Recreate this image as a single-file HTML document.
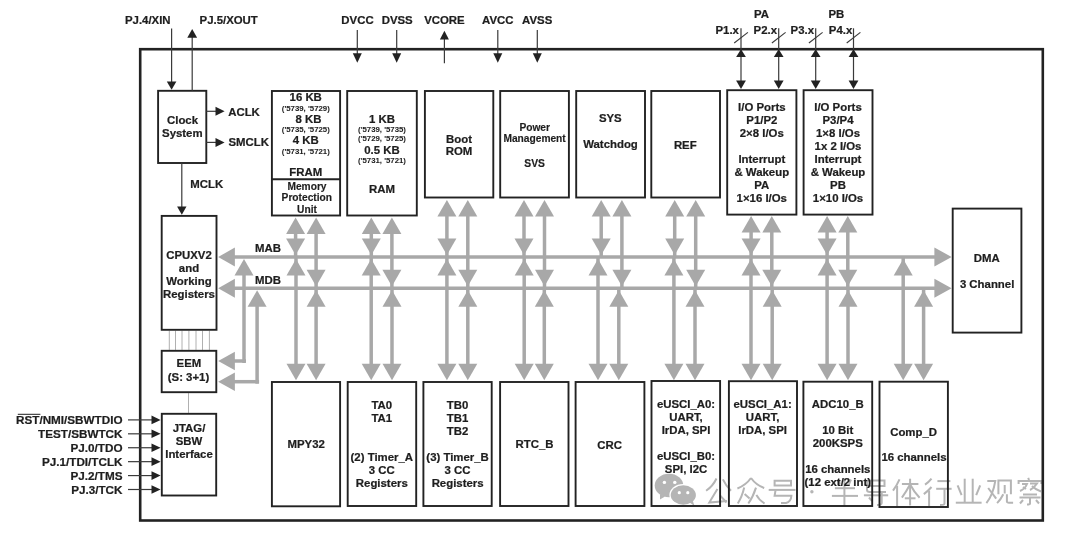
<!DOCTYPE html>
<html><head><meta charset="utf-8"><style>
html,body{margin:0;padding:0;background:#fff;}
body{width:1080px;height:536px;overflow:hidden;}
svg{display:block;font-family:"Liberation Sans",sans-serif;will-change:transform;}
</style></head><body>
<svg width="1080" height="536" viewBox="0 0 1080 536">
<rect x="0" y="0" width="1080" height="536" fill="#fff"/>
<g fill="none" stroke="#b5b5b5" stroke-width="2" stroke-linecap="butt" stroke-linejoin="miter">
<path d="M716.5,478.5 Q713,486 706.1,490.8"/><path d="M722.9,479.4 Q726,486 731,490.8"/><path d="M717.4,489 L709.3,502.6 L727,501"/><path d="M720,495.3 L726.5,502.5"/><path d="M751,478 Q746,485 737.4,488.5"/><path d="M751,478 Q756,485 764.2,488"/><path d="M744.2,487.6 Q742,497 737.8,503.5"/><path d="M744.6,494 L749.6,498.5"/><path d="M756,487.6 Q753,497 748.3,503.5"/><path d="M756.4,494.9 Q759,500 764.6,503.5"/><path d="M774.6,480.8 L791,480.8 L791,485.5 L774.6,485.5 Z"/><path d="M768.7,489.9 L795.5,489.9"/><path d="M775.5,490.3 L774.6,495.8 L791.4,495.8 Q791,502 786,503 L781,503"/><path d="M838,479.5 L840,484"/><path d="M851,479.5 L849,484"/><path d="M834.9,488.2 L855,488.2"/><path d="M831.9,495.9 L858,495.9"/><path d="M844.4,478.5 L844.4,506"/><path d="M867,480.5 L884.5,480.5 L884.5,486 L867,486"/><path d="M867,480.5 L867,490 Q867,492 870,492 L886,492"/><path d="M863.9,495.3 L888.2,495.3"/><path d="M881.7,492.5 L881.7,503 Q881.7,505 877,505"/><path d="M869,497.5 L872,501"/><path d="M899.5,479.3 Q897,485 893,490.6"/><path d="M897.1,485.9 L897.1,506"/><path d="M901.9,484 L918.4,484"/><path d="M910.1,478.7 L910.1,505.4"/><path d="M909.6,485.3 Q906,492 901.9,497.7"/><path d="M910.6,485.3 Q914,492 919.6,497.7"/><path d="M904.8,498.3 L915.5,498.3"/><path d="M931.5,478.7 Q929,482 925,484.7"/><path d="M931.5,487 Q928,491 923.8,494.1"/><path d="M929.1,490.6 L929.1,506"/><path d="M937.4,481.1 L950.4,481.1"/><path d="M936.2,488.8 L951.6,488.8"/><path d="M944.5,488.8 L944.5,503.5 Q944.5,505 940,505"/><path d="M964.7,478.7 L964.7,502.7"/><path d="M972.7,478.7 L972.7,502.7"/><path d="M957.6,485.3 L961.6,495.1"/><path d="M980.2,485.3 L976.2,495.1"/><path d="M955.8,502.7 L981.6,502.7"/><path d="M987.3,480.9 L995.3,480.9 Q993,495 986.4,503.1"/><path d="M988.2,488 L996.2,498.7"/><path d="M998.4,494.2 L998.4,480.4 L1010.9,480.4 L1010.9,494.2"/><path d="M1004.7,485 L1004.7,493.5"/><path d="M1003.3,494.2 Q1001,499 997.1,503.1"/><path d="M1006.9,494.2 L1006.9,501.5 Q1007,502.7 1009,502.7 L1013.1,502.7"/><path d="M1028.2,477.8 L1029,480"/><path d="M1018.6,484 L1018.6,480.9 L1041.4,480.9 L1041.4,484"/><path d="M1022,484 L1027,484 Q1025,489 1020,491"/><path d="M1023,487 L1026,489"/><path d="M1030,483.5 L1037,483.5 Q1034,488 1030,490"/><path d="M1032,486 Q1036,490 1041,491.5"/><path d="M1023,494.5 L1037,494.5"/><path d="M1019.5,497.5 L1040.5,497.5"/><path d="M1030,497.5 L1030,503.5 Q1030,504.5 1027,504.5"/><path d="M1023,500 L1020,503.5"/><path d="M1036,500 L1039,503.5"/>
</g>
<circle cx="811.9" cy="491.7" r="1.7" fill="#b5b5b5"/>
<ellipse cx="669" cy="485.5" rx="14.3" ry="11.7" fill="#b5b5b5"/>
<polygon points="660,494 660,499.5 665,496.5" fill="#b5b5b5"/>
<ellipse cx="683.3" cy="495" rx="13.9" ry="10.9" fill="#fff"/>
<ellipse cx="683.3" cy="495" rx="12.6" ry="9.7" fill="#b5b5b5"/>
<polygon points="689,502 694.5,506 692.5,500" fill="#b5b5b5"/>
<circle cx="664.4" cy="482.4" r="1.7" fill="#fff"/>
<circle cx="674.8" cy="482.4" r="1.7" fill="#fff"/>
<circle cx="679.3" cy="492.7" r="1.6" fill="#fff"/>
<circle cx="687.8" cy="492.7" r="1.6" fill="#fff"/>
<line x1="233.00" y1="257.00" x2="936.00" y2="257.00" stroke="#a8a8a8" stroke-width="3.5"/>
<line x1="233.00" y1="288.30" x2="936.00" y2="288.30" stroke="#a8a8a8" stroke-width="3.5"/>
<polygon points="234.90,247.50 234.90,266.50 218.20,257.00" fill="#a8a8a8"/>
<polygon points="234.90,278.80 234.90,297.80 218.20,288.30" fill="#a8a8a8"/>
<polygon points="934.40,247.50 934.40,266.50 951.60,257.00" fill="#a8a8a8"/>
<polygon points="934.40,278.80 934.40,297.80 951.60,288.30" fill="#a8a8a8"/>
<line x1="295.60" y1="221.50" x2="295.60" y2="257.00" stroke="#a8a8a8" stroke-width="3.5"/>
<line x1="316.10" y1="221.50" x2="316.10" y2="288.30" stroke="#a8a8a8" stroke-width="3.5"/>
<polygon points="286.10,234.00 305.10,234.00 295.60,217.50" fill="#a8a8a8"/>
<polygon points="306.60,234.00 325.60,234.00 316.10,217.50" fill="#a8a8a8"/>
<polygon points="286.10,238.50 305.10,238.50 295.60,255.00" fill="#a8a8a8"/>
<polygon points="306.60,269.80 325.60,269.80 316.10,286.30" fill="#a8a8a8"/>
<line x1="296.00" y1="257.00" x2="296.00" y2="376.20" stroke="#a8a8a8" stroke-width="3.5"/>
<line x1="316.10" y1="288.30" x2="316.10" y2="376.20" stroke="#a8a8a8" stroke-width="3.5"/>
<polygon points="286.50,275.50 305.50,275.50 296.00,259.00" fill="#a8a8a8"/>
<polygon points="306.60,306.80 325.60,306.80 316.10,290.30" fill="#a8a8a8"/>
<polygon points="286.50,363.70 305.50,363.70 296.00,380.20" fill="#a8a8a8"/>
<polygon points="306.60,363.70 325.60,363.70 316.10,380.20" fill="#a8a8a8"/>
<line x1="371.30" y1="221.50" x2="371.30" y2="257.00" stroke="#a8a8a8" stroke-width="3.5"/>
<line x1="391.90" y1="221.50" x2="391.90" y2="288.30" stroke="#a8a8a8" stroke-width="3.5"/>
<polygon points="361.80,234.00 380.80,234.00 371.30,217.50" fill="#a8a8a8"/>
<polygon points="382.40,234.00 401.40,234.00 391.90,217.50" fill="#a8a8a8"/>
<polygon points="361.80,238.50 380.80,238.50 371.30,255.00" fill="#a8a8a8"/>
<polygon points="382.40,269.80 401.40,269.80 391.90,286.30" fill="#a8a8a8"/>
<line x1="371.20" y1="257.00" x2="371.20" y2="376.20" stroke="#a8a8a8" stroke-width="3.5"/>
<line x1="392.00" y1="288.30" x2="392.00" y2="376.20" stroke="#a8a8a8" stroke-width="3.5"/>
<polygon points="361.70,275.50 380.70,275.50 371.20,259.00" fill="#a8a8a8"/>
<polygon points="382.50,306.80 401.50,306.80 392.00,290.30" fill="#a8a8a8"/>
<polygon points="361.70,363.70 380.70,363.70 371.20,380.20" fill="#a8a8a8"/>
<polygon points="382.50,363.70 401.50,363.70 392.00,380.20" fill="#a8a8a8"/>
<line x1="446.90" y1="204.00" x2="446.90" y2="257.00" stroke="#a8a8a8" stroke-width="3.5"/>
<line x1="467.80" y1="204.00" x2="467.80" y2="288.30" stroke="#a8a8a8" stroke-width="3.5"/>
<polygon points="437.40,216.50 456.40,216.50 446.90,200.00" fill="#a8a8a8"/>
<polygon points="458.30,216.50 477.30,216.50 467.80,200.00" fill="#a8a8a8"/>
<polygon points="437.40,238.50 456.40,238.50 446.90,255.00" fill="#a8a8a8"/>
<polygon points="458.30,269.80 477.30,269.80 467.80,286.30" fill="#a8a8a8"/>
<line x1="446.90" y1="257.00" x2="446.90" y2="376.20" stroke="#a8a8a8" stroke-width="3.5"/>
<line x1="467.80" y1="288.30" x2="467.80" y2="376.20" stroke="#a8a8a8" stroke-width="3.5"/>
<polygon points="437.40,275.50 456.40,275.50 446.90,259.00" fill="#a8a8a8"/>
<polygon points="458.30,306.80 477.30,306.80 467.80,290.30" fill="#a8a8a8"/>
<polygon points="437.40,363.70 456.40,363.70 446.90,380.20" fill="#a8a8a8"/>
<polygon points="458.30,363.70 477.30,363.70 467.80,380.20" fill="#a8a8a8"/>
<line x1="524.00" y1="204.00" x2="524.00" y2="257.00" stroke="#a8a8a8" stroke-width="3.5"/>
<line x1="544.50" y1="204.00" x2="544.50" y2="288.30" stroke="#a8a8a8" stroke-width="3.5"/>
<polygon points="514.50,216.50 533.50,216.50 524.00,200.00" fill="#a8a8a8"/>
<polygon points="535.00,216.50 554.00,216.50 544.50,200.00" fill="#a8a8a8"/>
<polygon points="514.50,238.50 533.50,238.50 524.00,255.00" fill="#a8a8a8"/>
<polygon points="535.00,269.80 554.00,269.80 544.50,286.30" fill="#a8a8a8"/>
<line x1="524.20" y1="257.00" x2="524.20" y2="376.20" stroke="#a8a8a8" stroke-width="3.5"/>
<line x1="544.30" y1="288.30" x2="544.30" y2="376.20" stroke="#a8a8a8" stroke-width="3.5"/>
<polygon points="514.70,275.50 533.70,275.50 524.20,259.00" fill="#a8a8a8"/>
<polygon points="534.80,306.80 553.80,306.80 544.30,290.30" fill="#a8a8a8"/>
<polygon points="514.70,363.70 533.70,363.70 524.20,380.20" fill="#a8a8a8"/>
<polygon points="534.80,363.70 553.80,363.70 544.30,380.20" fill="#a8a8a8"/>
<line x1="601.20" y1="204.00" x2="601.20" y2="257.00" stroke="#a8a8a8" stroke-width="3.5"/>
<line x1="621.90" y1="204.00" x2="621.90" y2="288.30" stroke="#a8a8a8" stroke-width="3.5"/>
<polygon points="591.70,216.50 610.70,216.50 601.20,200.00" fill="#a8a8a8"/>
<polygon points="612.40,216.50 631.40,216.50 621.90,200.00" fill="#a8a8a8"/>
<polygon points="591.70,238.50 610.70,238.50 601.20,255.00" fill="#a8a8a8"/>
<polygon points="612.40,269.80 631.40,269.80 621.90,286.30" fill="#a8a8a8"/>
<line x1="598.00" y1="257.00" x2="598.00" y2="376.20" stroke="#a8a8a8" stroke-width="3.5"/>
<line x1="618.80" y1="288.30" x2="618.80" y2="376.20" stroke="#a8a8a8" stroke-width="3.5"/>
<polygon points="588.50,275.50 607.50,275.50 598.00,259.00" fill="#a8a8a8"/>
<polygon points="609.30,306.80 628.30,306.80 618.80,290.30" fill="#a8a8a8"/>
<polygon points="588.50,363.70 607.50,363.70 598.00,380.20" fill="#a8a8a8"/>
<polygon points="609.30,363.70 628.30,363.70 618.80,380.20" fill="#a8a8a8"/>
<line x1="674.70" y1="204.00" x2="674.70" y2="257.00" stroke="#a8a8a8" stroke-width="3.5"/>
<line x1="695.70" y1="204.00" x2="695.70" y2="288.30" stroke="#a8a8a8" stroke-width="3.5"/>
<polygon points="665.20,216.50 684.20,216.50 674.70,200.00" fill="#a8a8a8"/>
<polygon points="686.20,216.50 705.20,216.50 695.70,200.00" fill="#a8a8a8"/>
<polygon points="665.20,238.50 684.20,238.50 674.70,255.00" fill="#a8a8a8"/>
<polygon points="686.20,269.80 705.20,269.80 695.70,286.30" fill="#a8a8a8"/>
<line x1="673.90" y1="257.00" x2="673.90" y2="376.20" stroke="#a8a8a8" stroke-width="3.5"/>
<line x1="695.00" y1="288.30" x2="695.00" y2="376.20" stroke="#a8a8a8" stroke-width="3.5"/>
<polygon points="664.40,275.50 683.40,275.50 673.90,259.00" fill="#a8a8a8"/>
<polygon points="685.50,306.80 704.50,306.80 695.00,290.30" fill="#a8a8a8"/>
<polygon points="664.40,363.70 683.40,363.70 673.90,380.20" fill="#a8a8a8"/>
<polygon points="685.50,363.70 704.50,363.70 695.00,380.20" fill="#a8a8a8"/>
<line x1="751.10" y1="220.10" x2="751.10" y2="257.00" stroke="#a8a8a8" stroke-width="3.5"/>
<line x1="771.80" y1="220.10" x2="771.80" y2="288.30" stroke="#a8a8a8" stroke-width="3.5"/>
<polygon points="741.60,232.60 760.60,232.60 751.10,216.10" fill="#a8a8a8"/>
<polygon points="762.30,232.60 781.30,232.60 771.80,216.10" fill="#a8a8a8"/>
<polygon points="741.60,238.50 760.60,238.50 751.10,255.00" fill="#a8a8a8"/>
<polygon points="762.30,269.80 781.30,269.80 771.80,286.30" fill="#a8a8a8"/>
<line x1="751.00" y1="257.00" x2="751.00" y2="376.20" stroke="#a8a8a8" stroke-width="3.5"/>
<line x1="772.20" y1="288.30" x2="772.20" y2="376.20" stroke="#a8a8a8" stroke-width="3.5"/>
<polygon points="741.50,275.50 760.50,275.50 751.00,259.00" fill="#a8a8a8"/>
<polygon points="762.70,306.80 781.70,306.80 772.20,290.30" fill="#a8a8a8"/>
<polygon points="741.50,363.70 760.50,363.70 751.00,380.20" fill="#a8a8a8"/>
<polygon points="762.70,363.70 781.70,363.70 772.20,380.20" fill="#a8a8a8"/>
<line x1="827.10" y1="220.10" x2="827.10" y2="257.00" stroke="#a8a8a8" stroke-width="3.5"/>
<line x1="847.80" y1="220.10" x2="847.80" y2="288.30" stroke="#a8a8a8" stroke-width="3.5"/>
<polygon points="817.60,232.60 836.60,232.60 827.10,216.10" fill="#a8a8a8"/>
<polygon points="838.30,232.60 857.30,232.60 847.80,216.10" fill="#a8a8a8"/>
<polygon points="817.60,238.50 836.60,238.50 827.10,255.00" fill="#a8a8a8"/>
<polygon points="838.30,269.80 857.30,269.80 847.80,286.30" fill="#a8a8a8"/>
<line x1="827.10" y1="257.00" x2="827.10" y2="376.20" stroke="#a8a8a8" stroke-width="3.5"/>
<line x1="848.00" y1="288.30" x2="848.00" y2="376.20" stroke="#a8a8a8" stroke-width="3.5"/>
<polygon points="817.60,275.50 836.60,275.50 827.10,259.00" fill="#a8a8a8"/>
<polygon points="838.50,306.80 857.50,306.80 848.00,290.30" fill="#a8a8a8"/>
<polygon points="817.60,363.70 836.60,363.70 827.10,380.20" fill="#a8a8a8"/>
<polygon points="838.50,363.70 857.50,363.70 848.00,380.20" fill="#a8a8a8"/>
<line x1="903.20" y1="257.00" x2="903.20" y2="376.20" stroke="#a8a8a8" stroke-width="3.5"/>
<line x1="923.60" y1="288.30" x2="923.60" y2="376.20" stroke="#a8a8a8" stroke-width="3.5"/>
<polygon points="893.70,275.50 912.70,275.50 903.20,259.00" fill="#a8a8a8"/>
<polygon points="914.10,306.80 933.10,306.80 923.60,290.30" fill="#a8a8a8"/>
<polygon points="893.70,363.70 912.70,363.70 903.20,380.20" fill="#a8a8a8"/>
<polygon points="914.10,363.70 933.10,363.70 923.60,380.20" fill="#a8a8a8"/>
<line x1="244.00" y1="263.00" x2="244.00" y2="363.00" stroke="#a8a8a8" stroke-width="3.5"/>
<line x1="246.00" y1="361.00" x2="233.00" y2="361.00" stroke="#a8a8a8" stroke-width="3.5"/>
<polygon points="234.50,275.50 253.50,275.50 244.00,259.00" fill="#a8a8a8"/>
<polygon points="234.90,351.80 234.90,370.20 218.20,361.00" fill="#a8a8a8"/>
<line x1="257.10" y1="294.30" x2="257.10" y2="383.70" stroke="#a8a8a8" stroke-width="3.5"/>
<line x1="259.10" y1="381.70" x2="233.00" y2="381.70" stroke="#a8a8a8" stroke-width="3.5"/>
<polygon points="247.60,306.80 266.60,306.80 257.10,290.30" fill="#a8a8a8"/>
<polygon points="234.90,372.50 234.90,390.90 218.20,381.70" fill="#a8a8a8"/>
<line x1="169.30" y1="330.70" x2="169.30" y2="349.90" stroke="#b0b0b0" stroke-width="1.0"/>
<line x1="175.50" y1="330.70" x2="175.50" y2="349.90" stroke="#b0b0b0" stroke-width="1.0"/>
<line x1="182.00" y1="330.70" x2="182.00" y2="349.90" stroke="#b0b0b0" stroke-width="1.0"/>
<line x1="188.90" y1="330.70" x2="188.90" y2="349.90" stroke="#b0b0b0" stroke-width="1.0"/>
<line x1="196.00" y1="330.70" x2="196.00" y2="349.90" stroke="#b0b0b0" stroke-width="1.0"/>
<line x1="202.50" y1="330.70" x2="202.50" y2="349.90" stroke="#b0b0b0" stroke-width="1.0"/>
<line x1="209.40" y1="330.70" x2="209.40" y2="349.90" stroke="#b0b0b0" stroke-width="1.0"/>
<line x1="188.50" y1="393.10" x2="188.50" y2="412.90" stroke="#b0b0b0" stroke-width="1.0"/>
<rect x="140.20" y="49.20" width="902.60" height="471.30" fill="none" stroke="#222" stroke-width="2.6"/>
<rect x="158.10" y="90.80" width="48.20" height="72.20" fill="none" stroke="#222" stroke-width="1.9"/>
<rect x="161.70" y="215.90" width="54.80" height="113.90" fill="none" stroke="#222" stroke-width="1.9"/>
<rect x="161.70" y="350.80" width="54.60" height="41.40" fill="none" stroke="#222" stroke-width="1.9"/>
<rect x="161.80" y="413.80" width="54.40" height="81.70" fill="none" stroke="#222" stroke-width="1.9"/>
<rect x="271.90" y="91.00" width="68.20" height="124.50" fill="none" stroke="#222" stroke-width="1.9"/>
<rect x="347.20" y="91.00" width="69.60" height="124.50" fill="none" stroke="#222" stroke-width="1.9"/>
<rect x="424.90" y="91.00" width="68.40" height="106.50" fill="none" stroke="#222" stroke-width="1.9"/>
<rect x="500.20" y="91.00" width="68.70" height="106.50" fill="none" stroke="#222" stroke-width="1.9"/>
<rect x="576.20" y="91.00" width="68.80" height="106.50" fill="none" stroke="#222" stroke-width="1.9"/>
<rect x="651.30" y="91.00" width="68.70" height="106.50" fill="none" stroke="#222" stroke-width="1.9"/>
<rect x="727.20" y="90.20" width="69.20" height="124.40" fill="none" stroke="#222" stroke-width="1.9"/>
<rect x="803.60" y="90.20" width="68.90" height="124.40" fill="none" stroke="#222" stroke-width="1.9"/>
<rect x="952.70" y="208.60" width="68.70" height="124.00" fill="none" stroke="#222" stroke-width="1.9"/>
<rect x="271.90" y="382.00" width="68.20" height="124.30" fill="none" stroke="#222" stroke-width="1.9"/>
<rect x="347.70" y="382.00" width="68.50" height="124.00" fill="none" stroke="#222" stroke-width="1.9"/>
<rect x="423.40" y="382.00" width="68.30" height="124.00" fill="none" stroke="#222" stroke-width="1.9"/>
<rect x="500.10" y="382.00" width="68.40" height="124.00" fill="none" stroke="#222" stroke-width="1.9"/>
<rect x="575.60" y="382.00" width="68.80" height="124.00" fill="none" stroke="#222" stroke-width="1.9"/>
<rect x="651.50" y="381.00" width="68.60" height="125.00" fill="none" stroke="#222" stroke-width="1.9"/>
<rect x="728.90" y="381.20" width="68.10" height="124.80" fill="none" stroke="#222" stroke-width="1.9"/>
<rect x="803.40" y="381.70" width="68.80" height="124.30" fill="none" stroke="#222" stroke-width="1.9"/>
<rect x="879.50" y="381.70" width="68.40" height="125.30" fill="none" stroke="#222" stroke-width="1.9"/>
<line x1="271.90" y1="179.30" x2="340.10" y2="179.30" stroke="#222" stroke-width="1.9"/>
<line x1="171.60" y1="28.50" x2="171.60" y2="82.50" stroke="#3a3a3a" stroke-width="1.2"/>
<polygon points="166.80,81.40 176.40,81.40 171.60,89.80" fill="#222"/>
<line x1="192.20" y1="90.80" x2="192.20" y2="36.50" stroke="#3a3a3a" stroke-width="1.2"/>
<polygon points="187.30,37.80 197.10,37.80 192.20,28.90" fill="#222"/>
<line x1="206.30" y1="111.30" x2="216.50" y2="111.30" stroke="#3a3a3a" stroke-width="1.2"/>
<polygon points="215.50,106.80 215.50,115.80 224.60,111.30" fill="#222"/>
<line x1="206.30" y1="142.40" x2="216.50" y2="142.40" stroke="#3a3a3a" stroke-width="1.2"/>
<polygon points="215.50,137.90 215.50,146.90 224.60,142.40" fill="#222"/>
<line x1="181.80" y1="162.80" x2="181.80" y2="207.50" stroke="#3a3a3a" stroke-width="1.2"/>
<polygon points="177.10,206.40 186.50,206.40 181.80,214.80" fill="#222"/>
<line x1="357.30" y1="30.00" x2="357.30" y2="54.50" stroke="#3a3a3a" stroke-width="1.2"/>
<polygon points="352.80,53.30 361.80,53.30 357.30,62.70" fill="#222"/>
<line x1="396.70" y1="30.00" x2="396.70" y2="54.50" stroke="#3a3a3a" stroke-width="1.2"/>
<polygon points="392.20,53.30 401.20,53.30 396.70,62.70" fill="#222"/>
<line x1="497.80" y1="30.00" x2="497.80" y2="54.50" stroke="#3a3a3a" stroke-width="1.2"/>
<polygon points="493.30,53.30 502.30,53.30 497.80,62.70" fill="#222"/>
<line x1="537.30" y1="30.00" x2="537.30" y2="54.50" stroke="#3a3a3a" stroke-width="1.2"/>
<polygon points="532.80,53.30 541.80,53.30 537.30,62.70" fill="#222"/>
<line x1="444.40" y1="63.30" x2="444.40" y2="38.50" stroke="#3a3a3a" stroke-width="1.2"/>
<polygon points="439.90,39.60 448.90,39.60 444.40,30.70" fill="#222"/>
<line x1="741.00" y1="28.30" x2="741.00" y2="82.00" stroke="#3a3a3a" stroke-width="1.2"/>
<polygon points="736.10,57.00 745.90,57.00 741.00,49.30" fill="#222"/>
<polygon points="736.10,80.60 745.90,80.60 741.00,88.90" fill="#222"/>
<line x1="734.20" y1="43.00" x2="747.90" y2="32.40" stroke="#3a3a3a" stroke-width="1.1"/>
<line x1="778.70" y1="28.30" x2="778.70" y2="82.00" stroke="#3a3a3a" stroke-width="1.2"/>
<polygon points="773.80,57.00 783.60,57.00 778.70,49.30" fill="#222"/>
<polygon points="773.80,80.60 783.60,80.60 778.70,88.90" fill="#222"/>
<line x1="771.90" y1="43.00" x2="785.60" y2="32.40" stroke="#3a3a3a" stroke-width="1.1"/>
<line x1="815.70" y1="28.30" x2="815.70" y2="82.00" stroke="#3a3a3a" stroke-width="1.2"/>
<polygon points="810.80,57.00 820.60,57.00 815.70,49.30" fill="#222"/>
<polygon points="810.80,80.60 820.60,80.60 815.70,88.90" fill="#222"/>
<line x1="808.90" y1="43.00" x2="822.60" y2="32.40" stroke="#3a3a3a" stroke-width="1.1"/>
<line x1="853.50" y1="28.30" x2="853.50" y2="82.00" stroke="#3a3a3a" stroke-width="1.2"/>
<polygon points="848.60,57.00 858.40,57.00 853.50,49.30" fill="#222"/>
<polygon points="848.60,80.60 858.40,80.60 853.50,88.90" fill="#222"/>
<line x1="846.70" y1="43.00" x2="860.40" y2="32.40" stroke="#3a3a3a" stroke-width="1.1"/>
<line x1="128.00" y1="419.90" x2="152.50" y2="419.90" stroke="#3a3a3a" stroke-width="1.2"/>
<polygon points="151.50,415.60 151.50,424.20 160.60,419.90" fill="#222"/>
<line x1="128.00" y1="433.82" x2="152.50" y2="433.82" stroke="#3a3a3a" stroke-width="1.2"/>
<polygon points="151.50,429.52 151.50,438.12 160.60,433.82" fill="#222"/>
<line x1="128.00" y1="447.74" x2="152.50" y2="447.74" stroke="#3a3a3a" stroke-width="1.2"/>
<polygon points="151.50,443.44 151.50,452.04 160.60,447.74" fill="#222"/>
<line x1="128.00" y1="461.66" x2="152.50" y2="461.66" stroke="#3a3a3a" stroke-width="1.2"/>
<polygon points="151.50,457.36 151.50,465.96 160.60,461.66" fill="#222"/>
<line x1="128.00" y1="475.58" x2="152.50" y2="475.58" stroke="#3a3a3a" stroke-width="1.2"/>
<polygon points="151.50,471.28 151.50,479.88 160.60,475.58" fill="#222"/>
<line x1="128.00" y1="489.50" x2="152.50" y2="489.50" stroke="#3a3a3a" stroke-width="1.2"/>
<polygon points="151.50,485.20 151.50,493.80 160.60,489.50" fill="#222"/>
<text x="147.80" y="24.00" font-size="11.4" text-anchor="middle" font-weight="bold" fill="#1e1e1e" stroke="#1e1e1e" stroke-width="0.22">PJ.4/XIN</text>
<text x="228.70" y="24.00" font-size="11.4" text-anchor="middle" font-weight="bold" fill="#1e1e1e" stroke="#1e1e1e" stroke-width="0.22">PJ.5/XOUT</text>
<text x="357.50" y="24.00" font-size="11.4" text-anchor="middle" font-weight="bold" fill="#1e1e1e" stroke="#1e1e1e" stroke-width="0.22">DVCC</text>
<text x="397.20" y="24.00" font-size="11.4" text-anchor="middle" font-weight="bold" fill="#1e1e1e" stroke="#1e1e1e" stroke-width="0.22">DVSS</text>
<text x="444.40" y="24.00" font-size="11.4" text-anchor="middle" font-weight="bold" fill="#1e1e1e" stroke="#1e1e1e" stroke-width="0.22">VCORE</text>
<text x="497.80" y="24.00" font-size="11.4" text-anchor="middle" font-weight="bold" fill="#1e1e1e" stroke="#1e1e1e" stroke-width="0.22">AVCC</text>
<text x="537.20" y="24.00" font-size="11.4" text-anchor="middle" font-weight="bold" fill="#1e1e1e" stroke="#1e1e1e" stroke-width="0.22">AVSS</text>
<text x="761.50" y="18.10" font-size="11.4" text-anchor="middle" font-weight="bold" fill="#1e1e1e" stroke="#1e1e1e" stroke-width="0.22">PA</text>
<text x="836.40" y="18.10" font-size="11.4" text-anchor="middle" font-weight="bold" fill="#1e1e1e" stroke="#1e1e1e" stroke-width="0.22">PB</text>
<text x="727.20" y="34.20" font-size="11.4" text-anchor="middle" font-weight="bold" fill="#1e1e1e" stroke="#1e1e1e" stroke-width="0.22">P1.x</text>
<text x="765.30" y="34.20" font-size="11.4" text-anchor="middle" font-weight="bold" fill="#1e1e1e" stroke="#1e1e1e" stroke-width="0.22">P2.x</text>
<text x="802.30" y="34.20" font-size="11.4" text-anchor="middle" font-weight="bold" fill="#1e1e1e" stroke="#1e1e1e" stroke-width="0.22">P3.x</text>
<text x="840.50" y="34.20" font-size="11.4" text-anchor="middle" font-weight="bold" fill="#1e1e1e" stroke="#1e1e1e" stroke-width="0.22">P4.x</text>
<text x="182.50" y="123.70" font-size="11.4" text-anchor="middle" font-weight="bold" fill="#1e1e1e" stroke="#1e1e1e" stroke-width="0.22">Clock</text>
<text x="182.30" y="136.70" font-size="11.4" text-anchor="middle" font-weight="bold" fill="#1e1e1e" stroke="#1e1e1e" stroke-width="0.22">System</text>
<text x="228.20" y="115.70" font-size="11.4" text-anchor="start" font-weight="bold" fill="#1e1e1e" stroke="#1e1e1e" stroke-width="0.22">ACLK</text>
<text x="228.50" y="146.00" font-size="11.4" text-anchor="start" font-weight="bold" fill="#1e1e1e" stroke="#1e1e1e" stroke-width="0.22">SMCLK</text>
<text x="190.30" y="187.90" font-size="11.4" text-anchor="start" font-weight="bold" fill="#1e1e1e" stroke="#1e1e1e" stroke-width="0.22">MCLK</text>
<text x="189.00" y="258.70" font-size="11.4" text-anchor="middle" font-weight="bold" fill="#1e1e1e" stroke="#1e1e1e" stroke-width="0.22">CPUXV2</text>
<text x="189.00" y="271.70" font-size="11.4" text-anchor="middle" font-weight="bold" fill="#1e1e1e" stroke="#1e1e1e" stroke-width="0.22">and</text>
<text x="189.00" y="284.70" font-size="11.4" text-anchor="middle" font-weight="bold" fill="#1e1e1e" stroke="#1e1e1e" stroke-width="0.22">Working</text>
<text x="189.00" y="297.70" font-size="11.4" text-anchor="middle" font-weight="bold" fill="#1e1e1e" stroke="#1e1e1e" stroke-width="0.22">Registers</text>
<text x="255.10" y="252.40" font-size="11.4" text-anchor="start" font-weight="bold" fill="#1e1e1e" stroke="#1e1e1e" stroke-width="0.22">MAB</text>
<text x="255.10" y="284.00" font-size="11.4" text-anchor="start" font-weight="bold" fill="#1e1e1e" stroke="#1e1e1e" stroke-width="0.22">MDB</text>
<text x="188.90" y="367.40" font-size="11.4" text-anchor="middle" font-weight="bold" fill="#1e1e1e" stroke="#1e1e1e" stroke-width="0.22">EEM</text>
<text x="188.50" y="380.90" font-size="11.4" text-anchor="middle" font-weight="bold" fill="#1e1e1e" stroke="#1e1e1e" stroke-width="0.22">(S: 3+1)</text>
<text x="189.00" y="431.80" font-size="11.4" text-anchor="middle" font-weight="bold" fill="#1e1e1e" stroke="#1e1e1e" stroke-width="0.22">JTAG/</text>
<text x="189.00" y="444.80" font-size="11.4" text-anchor="middle" font-weight="bold" fill="#1e1e1e" stroke="#1e1e1e" stroke-width="0.22">SBW</text>
<text x="189.00" y="457.80" font-size="11.4" text-anchor="middle" font-weight="bold" fill="#1e1e1e" stroke="#1e1e1e" stroke-width="0.22">Interface</text>
<text x="122.50" y="424.00" font-size="11.7" text-anchor="end" font-weight="bold" fill="#1e1e1e" stroke="#1e1e1e" stroke-width="0.22">RST/NMI/SBWTDIO</text>
<text x="122.50" y="437.92" font-size="11.7" text-anchor="end" font-weight="bold" fill="#1e1e1e" stroke="#1e1e1e" stroke-width="0.22">TEST/SBWTCK</text>
<text x="122.50" y="451.84" font-size="11.7" text-anchor="end" font-weight="bold" fill="#1e1e1e" stroke="#1e1e1e" stroke-width="0.22">PJ.0/TDO</text>
<text x="122.50" y="465.76" font-size="11.7" text-anchor="end" font-weight="bold" fill="#1e1e1e" stroke="#1e1e1e" stroke-width="0.22">PJ.1/TDI/TCLK</text>
<text x="122.50" y="479.68" font-size="11.7" text-anchor="end" font-weight="bold" fill="#1e1e1e" stroke="#1e1e1e" stroke-width="0.22">PJ.2/TMS</text>
<text x="122.50" y="493.60" font-size="11.7" text-anchor="end" font-weight="bold" fill="#1e1e1e" stroke="#1e1e1e" stroke-width="0.22">PJ.3/TCK</text>
<line x1="17.80" y1="414.30" x2="40.40" y2="414.30" stroke="#1e1e1e" stroke-width="1.0"/>
<text x="305.70" y="101.10" font-size="11.4" text-anchor="middle" font-weight="bold" fill="#1e1e1e" stroke="#1e1e1e" stroke-width="0.22">16 KB</text>
<text x="305.80" y="110.50" font-size="7.8" text-anchor="middle" font-weight="bold" fill="#1e1e1e" stroke="#1e1e1e" stroke-width="0.06">('5739, '5729)</text>
<text x="308.50" y="122.60" font-size="11.4" text-anchor="middle" font-weight="bold" fill="#1e1e1e" stroke="#1e1e1e" stroke-width="0.22">8 KB</text>
<text x="305.80" y="132.00" font-size="7.8" text-anchor="middle" font-weight="bold" fill="#1e1e1e" stroke="#1e1e1e" stroke-width="0.06">('5735, '5725)</text>
<text x="305.70" y="144.40" font-size="11.4" text-anchor="middle" font-weight="bold" fill="#1e1e1e" stroke="#1e1e1e" stroke-width="0.22">4 KB</text>
<text x="305.80" y="153.60" font-size="7.8" text-anchor="middle" font-weight="bold" fill="#1e1e1e" stroke="#1e1e1e" stroke-width="0.06">('5731, '5721)</text>
<text x="305.80" y="175.70" font-size="11.4" text-anchor="middle" font-weight="bold" fill="#1e1e1e" stroke="#1e1e1e" stroke-width="0.22">FRAM</text>
<text x="307.00" y="189.60" font-size="10.2" text-anchor="middle" font-weight="bold" fill="#1e1e1e" stroke="#1e1e1e" stroke-width="0.16">Memory</text>
<text x="306.80" y="201.10" font-size="10.2" text-anchor="middle" font-weight="bold" fill="#1e1e1e" stroke="#1e1e1e" stroke-width="0.16">Protection</text>
<text x="307.00" y="212.90" font-size="10.2" text-anchor="middle" font-weight="bold" fill="#1e1e1e" stroke="#1e1e1e" stroke-width="0.16">Unit</text>
<text x="382.00" y="123.10" font-size="11.4" text-anchor="middle" font-weight="bold" fill="#1e1e1e" stroke="#1e1e1e" stroke-width="0.22">1 KB</text>
<text x="382.00" y="132.30" font-size="7.8" text-anchor="middle" font-weight="bold" fill="#1e1e1e" stroke="#1e1e1e" stroke-width="0.06">('5739, '5735)</text>
<text x="382.00" y="141.20" font-size="7.8" text-anchor="middle" font-weight="bold" fill="#1e1e1e" stroke="#1e1e1e" stroke-width="0.06">('5729, '5725)</text>
<text x="382.00" y="154.00" font-size="11.4" text-anchor="middle" font-weight="bold" fill="#1e1e1e" stroke="#1e1e1e" stroke-width="0.22">0.5 KB</text>
<text x="382.00" y="162.80" font-size="7.8" text-anchor="middle" font-weight="bold" fill="#1e1e1e" stroke="#1e1e1e" stroke-width="0.06">('5731, '5721)</text>
<text x="382.00" y="192.80" font-size="11.4" text-anchor="middle" font-weight="bold" fill="#1e1e1e" stroke="#1e1e1e" stroke-width="0.22">RAM</text>
<text x="459.00" y="142.50" font-size="11.4" text-anchor="middle" font-weight="bold" fill="#1e1e1e" stroke="#1e1e1e" stroke-width="0.22">Boot</text>
<text x="459.00" y="155.30" font-size="11.4" text-anchor="middle" font-weight="bold" fill="#1e1e1e" stroke="#1e1e1e" stroke-width="0.22">ROM</text>
<text x="534.70" y="130.50" font-size="10.2" text-anchor="middle" font-weight="bold" fill="#1e1e1e" stroke="#1e1e1e" stroke-width="0.16">Power</text>
<text x="534.60" y="142.20" font-size="10.2" text-anchor="middle" font-weight="bold" fill="#1e1e1e" stroke="#1e1e1e" stroke-width="0.16">Management</text>
<text x="534.60" y="166.60" font-size="10.3" text-anchor="middle" font-weight="bold" fill="#1e1e1e" stroke="#1e1e1e" stroke-width="0.16">SVS</text>
<text x="610.30" y="121.90" font-size="11.4" text-anchor="middle" font-weight="bold" fill="#1e1e1e" stroke="#1e1e1e" stroke-width="0.22">SYS</text>
<text x="610.50" y="148.30" font-size="11.4" text-anchor="middle" font-weight="bold" fill="#1e1e1e" stroke="#1e1e1e" stroke-width="0.22">Watchdog</text>
<text x="685.30" y="149.40" font-size="11.4" text-anchor="middle" font-weight="bold" fill="#1e1e1e" stroke="#1e1e1e" stroke-width="0.22">REF</text>
<text x="761.80" y="110.90" font-size="11.4" text-anchor="middle" font-weight="bold" fill="#1e1e1e" stroke="#1e1e1e" stroke-width="0.22">I/O Ports</text>
<text x="761.80" y="123.96" font-size="11.4" text-anchor="middle" font-weight="bold" fill="#1e1e1e" stroke="#1e1e1e" stroke-width="0.22">P1/P2</text>
<text x="761.80" y="137.02" font-size="11.4" text-anchor="middle" font-weight="bold" fill="#1e1e1e" stroke="#1e1e1e" stroke-width="0.22">2×8 I/Os</text>
<text x="761.80" y="163.14" font-size="11.4" text-anchor="middle" font-weight="bold" fill="#1e1e1e" stroke="#1e1e1e" stroke-width="0.22">Interrupt</text>
<text x="761.80" y="176.20" font-size="11.4" text-anchor="middle" font-weight="bold" fill="#1e1e1e" stroke="#1e1e1e" stroke-width="0.22">&amp; Wakeup</text>
<text x="761.80" y="189.26" font-size="11.4" text-anchor="middle" font-weight="bold" fill="#1e1e1e" stroke="#1e1e1e" stroke-width="0.22">PA</text>
<text x="761.80" y="202.32" font-size="11.4" text-anchor="middle" font-weight="bold" fill="#1e1e1e" stroke="#1e1e1e" stroke-width="0.22">1×16 I/Os</text>
<text x="838.00" y="110.90" font-size="11.4" text-anchor="middle" font-weight="bold" fill="#1e1e1e" stroke="#1e1e1e" stroke-width="0.22">I/O Ports</text>
<text x="838.00" y="123.96" font-size="11.4" text-anchor="middle" font-weight="bold" fill="#1e1e1e" stroke="#1e1e1e" stroke-width="0.22">P3/P4</text>
<text x="838.00" y="137.02" font-size="11.4" text-anchor="middle" font-weight="bold" fill="#1e1e1e" stroke="#1e1e1e" stroke-width="0.22">1×8 I/Os</text>
<text x="838.00" y="150.08" font-size="11.4" text-anchor="middle" font-weight="bold" fill="#1e1e1e" stroke="#1e1e1e" stroke-width="0.22">1x 2 I/Os</text>
<text x="838.00" y="163.14" font-size="11.4" text-anchor="middle" font-weight="bold" fill="#1e1e1e" stroke="#1e1e1e" stroke-width="0.22">Interrupt</text>
<text x="838.00" y="176.20" font-size="11.4" text-anchor="middle" font-weight="bold" fill="#1e1e1e" stroke="#1e1e1e" stroke-width="0.22">&amp; Wakeup</text>
<text x="838.00" y="189.26" font-size="11.4" text-anchor="middle" font-weight="bold" fill="#1e1e1e" stroke="#1e1e1e" stroke-width="0.22">PB</text>
<text x="838.00" y="202.32" font-size="11.4" text-anchor="middle" font-weight="bold" fill="#1e1e1e" stroke="#1e1e1e" stroke-width="0.22">1×10 I/Os</text>
<text x="986.70" y="262.20" font-size="11.4" text-anchor="middle" font-weight="bold" fill="#1e1e1e" stroke="#1e1e1e" stroke-width="0.22">DMA</text>
<text x="987.10" y="288.20" font-size="11.4" text-anchor="middle" font-weight="bold" fill="#1e1e1e" stroke="#1e1e1e" stroke-width="0.22">3 Channel</text>
<text x="306.20" y="448.40" font-size="11.4" text-anchor="middle" font-weight="bold" fill="#1e1e1e" stroke="#1e1e1e" stroke-width="0.22">MPY32</text>
<text x="381.80" y="408.50" font-size="11.4" text-anchor="middle" font-weight="bold" fill="#1e1e1e" stroke="#1e1e1e" stroke-width="0.22">TA0</text>
<text x="381.80" y="421.58" font-size="11.4" text-anchor="middle" font-weight="bold" fill="#1e1e1e" stroke="#1e1e1e" stroke-width="0.22">TA1</text>
<text x="381.80" y="460.82" font-size="11.4" text-anchor="middle" font-weight="bold" fill="#1e1e1e" stroke="#1e1e1e" stroke-width="0.22">(2) Timer_A</text>
<text x="381.80" y="473.90" font-size="11.4" text-anchor="middle" font-weight="bold" fill="#1e1e1e" stroke="#1e1e1e" stroke-width="0.22">3 CC</text>
<text x="381.80" y="486.98" font-size="11.4" text-anchor="middle" font-weight="bold" fill="#1e1e1e" stroke="#1e1e1e" stroke-width="0.22">Registers</text>
<text x="457.60" y="408.50" font-size="11.4" text-anchor="middle" font-weight="bold" fill="#1e1e1e" stroke="#1e1e1e" stroke-width="0.22">TB0</text>
<text x="457.60" y="421.58" font-size="11.4" text-anchor="middle" font-weight="bold" fill="#1e1e1e" stroke="#1e1e1e" stroke-width="0.22">TB1</text>
<text x="457.60" y="434.66" font-size="11.4" text-anchor="middle" font-weight="bold" fill="#1e1e1e" stroke="#1e1e1e" stroke-width="0.22">TB2</text>
<text x="457.60" y="460.82" font-size="11.4" text-anchor="middle" font-weight="bold" fill="#1e1e1e" stroke="#1e1e1e" stroke-width="0.22">(3) Timer_B</text>
<text x="457.60" y="473.90" font-size="11.4" text-anchor="middle" font-weight="bold" fill="#1e1e1e" stroke="#1e1e1e" stroke-width="0.22">3 CC</text>
<text x="457.60" y="486.98" font-size="11.4" text-anchor="middle" font-weight="bold" fill="#1e1e1e" stroke="#1e1e1e" stroke-width="0.22">Registers</text>
<text x="534.60" y="447.90" font-size="11.4" text-anchor="middle" font-weight="bold" fill="#1e1e1e" stroke="#1e1e1e" stroke-width="0.22">RTC_B</text>
<text x="609.60" y="448.90" font-size="11.4" text-anchor="middle" font-weight="bold" fill="#1e1e1e" stroke="#1e1e1e" stroke-width="0.22">CRC</text>
<text x="686.00" y="408.00" font-size="11.4" text-anchor="middle" font-weight="bold" fill="#1e1e1e" stroke="#1e1e1e" stroke-width="0.22">eUSCI_A0:</text>
<text x="686.00" y="420.90" font-size="11.4" text-anchor="middle" font-weight="bold" fill="#1e1e1e" stroke="#1e1e1e" stroke-width="0.22">UART,</text>
<text x="686.00" y="433.80" font-size="11.4" text-anchor="middle" font-weight="bold" fill="#1e1e1e" stroke="#1e1e1e" stroke-width="0.22">IrDA, SPI</text>
<text x="686.00" y="459.60" font-size="11.4" text-anchor="middle" font-weight="bold" fill="#1e1e1e" stroke="#1e1e1e" stroke-width="0.22">eUSCI_B0:</text>
<text x="686.00" y="472.50" font-size="11.4" text-anchor="middle" font-weight="bold" fill="#1e1e1e" stroke="#1e1e1e" stroke-width="0.22">SPI, I2C</text>
<text x="762.60" y="408.00" font-size="11.4" text-anchor="middle" font-weight="bold" fill="#1e1e1e" stroke="#1e1e1e" stroke-width="0.22">eUSCI_A1:</text>
<text x="762.60" y="420.90" font-size="11.4" text-anchor="middle" font-weight="bold" fill="#1e1e1e" stroke="#1e1e1e" stroke-width="0.22">UART,</text>
<text x="762.60" y="433.80" font-size="11.4" text-anchor="middle" font-weight="bold" fill="#1e1e1e" stroke="#1e1e1e" stroke-width="0.22">IrDA, SPI</text>
<text x="837.80" y="408.20" font-size="11.4" text-anchor="middle" font-weight="bold" fill="#1e1e1e" stroke="#1e1e1e" stroke-width="0.22">ADC10_B</text>
<text x="837.80" y="434.18" font-size="11.4" text-anchor="middle" font-weight="bold" fill="#1e1e1e" stroke="#1e1e1e" stroke-width="0.22">10 Bit</text>
<text x="837.80" y="447.17" font-size="11.4" text-anchor="middle" font-weight="bold" fill="#1e1e1e" stroke="#1e1e1e" stroke-width="0.22">200KSPS</text>
<text x="837.80" y="473.15" font-size="11.4" text-anchor="middle" font-weight="bold" fill="#1e1e1e" stroke="#1e1e1e" stroke-width="0.22">16 channels</text>
<text x="837.80" y="486.14" font-size="11.4" text-anchor="middle" font-weight="bold" fill="#1e1e1e" stroke="#1e1e1e" stroke-width="0.22">(12 ext/2 int)</text>
<text x="913.60" y="435.80" font-size="11.4" text-anchor="middle" font-weight="bold" fill="#1e1e1e" stroke="#1e1e1e" stroke-width="0.22">Comp_D</text>
<text x="914.00" y="461.00" font-size="11.4" text-anchor="middle" font-weight="bold" fill="#1e1e1e" stroke="#1e1e1e" stroke-width="0.22">16 channels</text>
</svg>
</body></html>
